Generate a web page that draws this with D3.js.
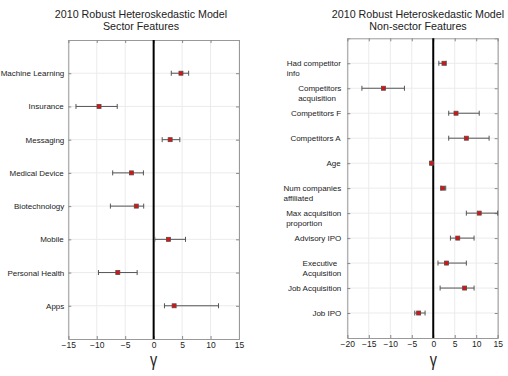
<!DOCTYPE html>
<html>
<head>
<meta charset="utf-8">
<script src="https://cdn.jsdelivr.net/npm/d3@7"></script>
<style>
  body { margin: 0; background: #fff; }
  text { font-family: "Liberation Sans", Arial, sans-serif; fill: #222; }
</style>
</head>
<body>
<svg id="canvas" width="508" height="376"></svg>
<script>
// sector features (left panel)
var sectorNames = ["Machine Learning", "Insurance", "Messaging", "Medical Device",
  "Biotechnology", "Mobile", "Personal Health", "Apps"]
var sectorCoef = [4.8, -9.6, 2.9, -3.9, -3.05, 2.6, -6.3, 3.6]
var sectorLow  = [3.1, -13.65, 1.5, -7.2, -7.6, 0.2, -9.7, 1.9]
var sectorHigh = [6.15, -6.4, 4.6, -1.8, -1.75, 5.6, -2.9, 11.4]
var sectorTicks = [-15, -10, -5, 0, 5, 10, 15]

// non-sector features (right panel)
var otherNames = ["Had competitor\ninfo", "Competitors\nacquisition", "Competitors F",
  "Competitors A", "Age", "Num companies\naffiliated", "Max acquisition\nproportion",
  "Advisory IPO", "Executive\nAcquisition", "Job Acquisition", "Job IPO"]
var otherCoef = [2.5, -11.6, 5.3, 7.7, -0.4, 2.2, 10.7, 5.7, 3.1, 7.3, -3.4]
var otherLow  = [1.3, -16.6, 3.6, 3.6, -0.5, 1.8, 7.7, 4.0, 1.1, 1.6, -4.3]
var otherHigh = [3.0, -6.7, 10.7, 13.0, -0.3, 2.9, 15.0, 9.5, 7.7, 9.5, -1.9]
var otherTicks = [-20, -15, -10, -5, 0, 5, 10, 15]

var svg = d3.select("#canvas")

function drawPanel(opt) {
  var n = opt.names.length
  var x = d3.scaleLinear().domain([opt.ticks[0], opt.ticks[opt.ticks.length - 1]]).range([opt.left, opt.right])
  var y = d3.scaleLinear().domain([0, n + 1]).range([opt.top, opt.bottom])
  var g = svg.append("g")

  // grid
  g.selectAll(".vgrid").data(opt.ticks).enter().append("line")
    .attr("x1", d => x(d)).attr("x2", d => x(d))
    .attr("y1", opt.top).attr("y2", opt.bottom)
    .attr("stroke", "#ebebeb").attr("stroke-width", 1)
  g.selectAll(".hgrid").data(d3.range(1, n + 1)).enter().append("line")
    .attr("x1", opt.left).attr("x2", opt.right)
    .attr("y1", d => y(d)).attr("y2", d => y(d))
    .attr("stroke", "#ebebeb").attr("stroke-width", 1)

  // axes with inward ticks
  var ax = d3.axisBottom(x).tickValues(opt.ticks).tickSize(-3).tickPadding(3).tickFormat(d3.format("d"))
  var axT = d3.axisTop(x).tickValues(opt.ticks).tickSize(-3).tickFormat("")
  var ayL = d3.axisLeft(y).tickValues(d3.range(1, n + 1)).tickSize(-3).tickFormat("")
  var ayR = d3.axisRight(y).tickValues(d3.range(1, n + 1)).tickSize(-3).tickFormat("")
  var gb = g.append("g").attr("transform", "translate(0," + opt.bottom + ")").call(ax)
  g.append("g").attr("transform", "translate(0," + opt.top + ")").call(axT)
  g.append("g").attr("transform", "translate(" + opt.left + ",0)").call(ayL)
  g.append("g").attr("transform", "translate(" + opt.right + ",0)").call(ayR)
  g.selectAll(".domain").attr("stroke", "#999")
  g.selectAll(".tick line").attr("stroke", "#888")
  gb.selectAll("text").attr("font-size", 8.5).attr("fill", "#222")
    .attr("font-family", "Liberation Sans, Arial, sans-serif")

  // zero line
  g.append("line")
    .attr("x1", x(0)).attr("x2", x(0)).attr("y1", opt.top).attr("y2", opt.bottom)
    .attr("stroke", "#000").attr("stroke-width", 2)

  // category labels
  opt.names.forEach(function(name, i) {
    var lines = name.split("\n")
    var t = g.append("text").attr("font-size", 8).attr("y", y(i + 1) + 3)
    lines.forEach(function(l, j) {
      t.append("tspan").attr("x", 0).attr("dy", j == 0 ? 0 : 9.5).text(l)
    })
    var w = t.node().getBBox().width
    t.selectAll("tspan").attr("x", opt.left - opt.gap - w)
  })

  // error bars
  var idx = d3.range(n)
  g.selectAll(".err").data(idx).enter().append("line")
    .attr("x1", i => x(opt.low[i])).attr("x2", i => x(opt.high[i]))
    .attr("y1", i => y(i + 1)).attr("y2", i => y(i + 1))
    .attr("stroke", "#555").attr("stroke-width", 1)
  ;["low", "high"].forEach(function(k) {
    g.selectAll(".cap" + k).data(idx).enter().append("line")
      .attr("x1", i => x(opt[k][i])).attr("x2", i => x(opt[k][i]))
      .attr("y1", i => y(i + 1) - 2.5).attr("y2", i => y(i + 1) + 2.5)
      .attr("stroke", "#555").attr("stroke-width", 1)
  })

  // markers
  g.selectAll(".pt").data(idx).enter().append("rect")
    .attr("x", i => x(opt.coef[i]) - 2).attr("y", i => y(i + 1) - 2)
    .attr("width", 4).attr("height", 4)
    .attr("fill", "#e01010").attr("stroke", "#5a4848").attr("stroke-width", 0.8)

  // title
  var tt = svg.append("text").attr("text-anchor", "middle").attr("font-size", 10.7)
  tt.append("tspan").attr("x", opt.titleX).attr("y", 18).text("2010 Robust Heteroskedastic Model")
  tt.append("tspan").attr("x", opt.titleX).attr("y", 30).text(opt.subtitle)

  // gamma label
  svg.append("text").attr("text-anchor", "middle").attr("font-size", 16)
    .attr("transform", "translate(" + x(0) + ",366) scale(0.9,1.15)")
    .text("γ")
}

drawPanel({
  names: sectorNames, coef: sectorCoef, low: sectorLow, high: sectorHigh, ticks: sectorTicks,
  left: 68.3, right: 239, top: 40, bottom: 339, gap: 4,
  titleX: 141, subtitle: "Sector Features"
})

drawPanel({
  names: otherNames, coef: otherCoef, low: otherLow, high: otherHigh, ticks: otherTicks,
  left: 347.3, right: 497.7, top: 38.3, bottom: 338, gap: 6,
  titleX: 418, subtitle: "Non-sector Features"
})
</script>
</body>
</html>
